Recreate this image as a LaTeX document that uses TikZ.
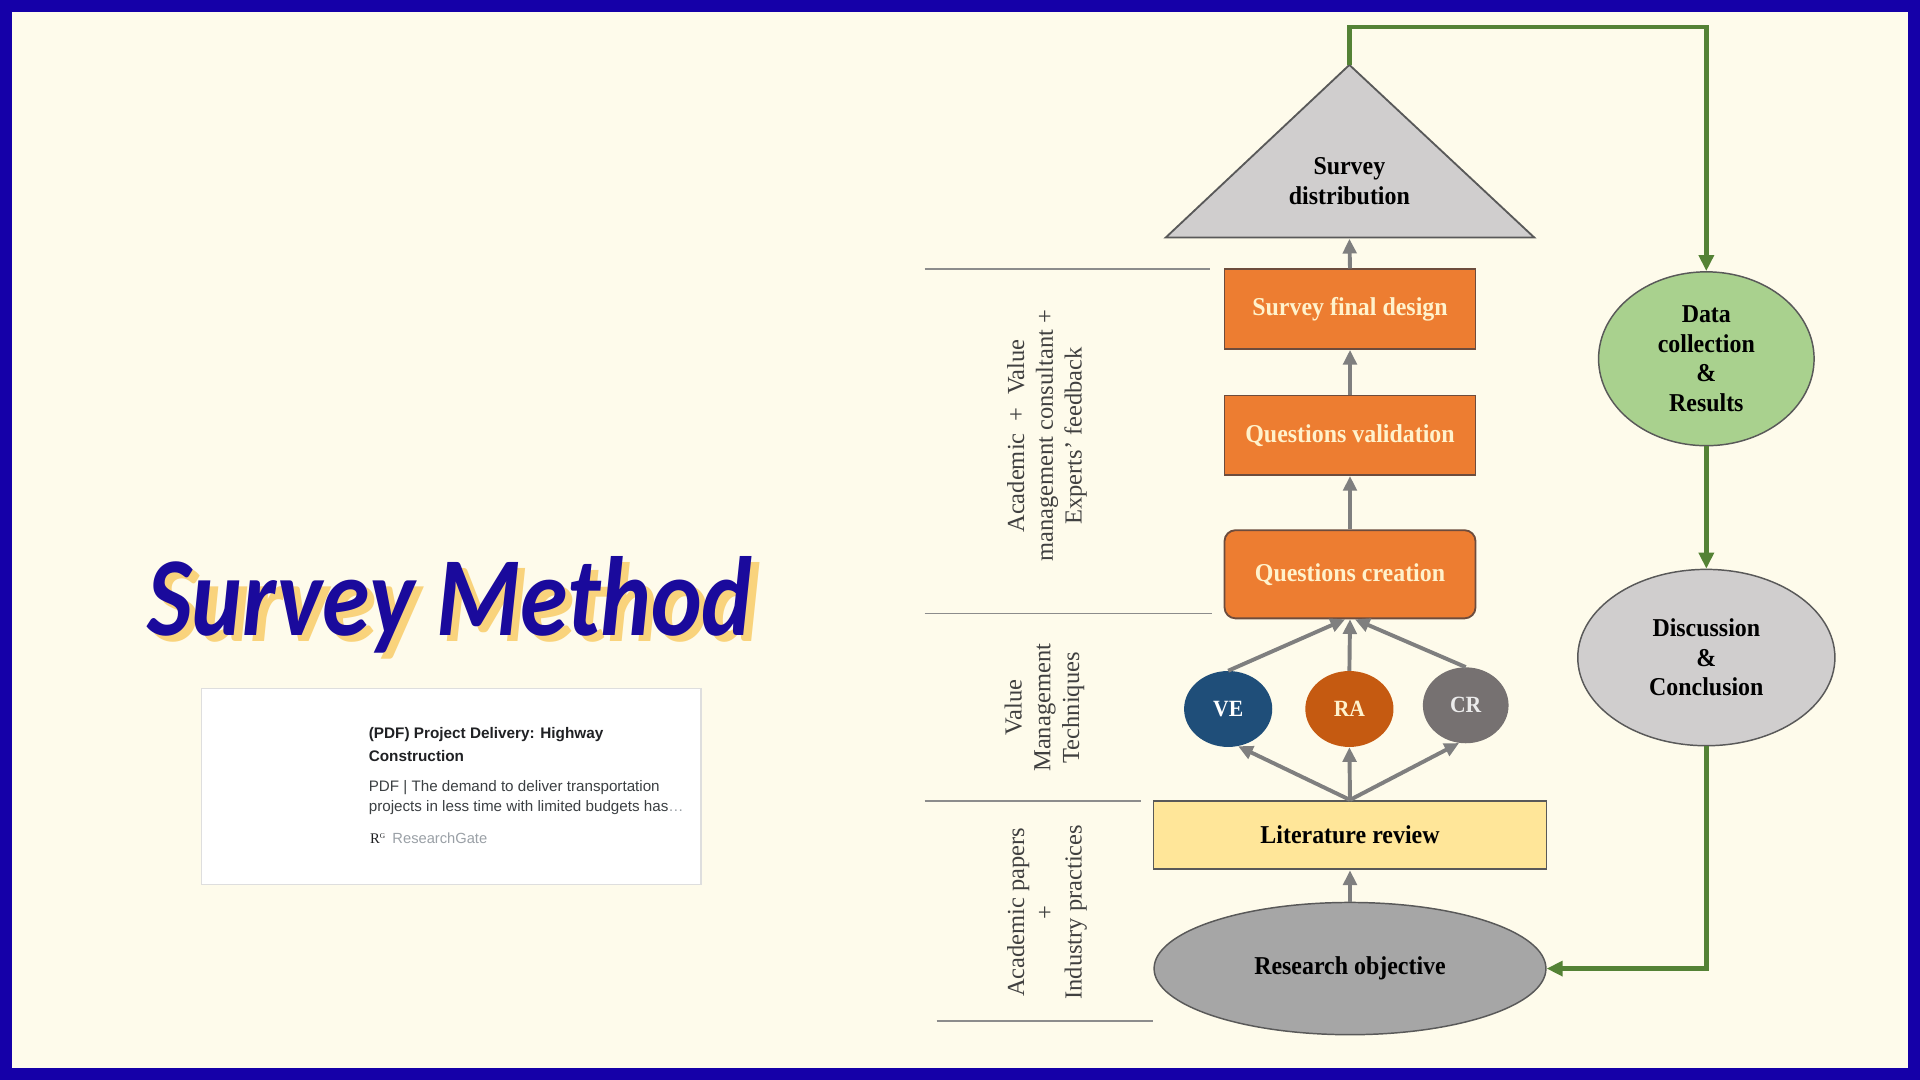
\documentclass[tikz,border=0pt]{standalone}
\usepackage{fontspec}
\setmainfont{Liberation Serif}
\newfontfamily\titlefont[FakeStretch=0.855]{Carlito}
\newfontfamily\cardfont{Liberation Sans}
\newfontfamily\nodefont[FakeStretch=0.93]{Liberation Serif}
\usetikzlibrary{arrows.meta,shapes.geometric}
\definecolor{frameblue}{HTML}{1500A8}
\definecolor{bgcream}{HTML}{FEFBEB}
\definecolor{titleblue}{HTML}{1A0A9C}
\definecolor{shadowyellow}{HTML}{F9D37C}
\definecolor{orangebox}{HTML}{ED7D31}
\definecolor{orangeedge}{HTML}{6D4C3D}
\definecolor{creamtext}{HTML}{FFF2CC}
\definecolor{arrowgray}{HTML}{7F7F7F}
\definecolor{greenline}{HTML}{548235}
\definecolor{trigray}{HTML}{D0CECE}
\definecolor{edgegray}{HTML}{595959}
\definecolor{litfill}{HTML}{FFE699}
\definecolor{rofill}{HTML}{A6A6A6}
\definecolor{dcgreen}{HTML}{A9D18E}
\definecolor{veblue}{HTML}{1F4E79}
\definecolor{rabrown}{HTML}{C55A11}
\definecolor{crgray}{HTML}{767171}
\definecolor{labelgray}{HTML}{404040}
\definecolor{rulegray}{HTML}{8C8C8C}
\definecolor{cardedge}{HTML}{DEDEDE}
\definecolor{cardtitle}{HTML}{202124}
\definecolor{cardbody}{HTML}{3C4043}
\definecolor{rggray}{HTML}{9AA0A6}
\tikzset{
  nodetext/.style={font=\nodefont\bfseries\fontsize{21}{24}\selectfont},
  obox/.style={nodetext, draw=orangeedge, line width=1.5pt, fill=orangebox,
    minimum width=205pt, minimum height=65pt, inner sep=0pt, text=creamtext},
  tech/.style={ellipse, inner sep=0pt, minimum width=72pt, minimum height=62pt,
    font=\nodefont\bfseries\fontsize{19}{21}\selectfont},
  oval/.style={ellipse, nodetext, draw=edgegray, line width=1.2pt, inner sep=0pt, align=center},
  grayarrow/.style={draw=arrowgray, line width=3.2pt, -{Triangle[length=12pt,width=11pt]}},
  greenarrow/.style={draw=greenline, line width=3.8pt, -{Triangle[length=13pt,width=12pt]}},
  rule/.style={draw=rulegray, line width=1.5pt},
  sidelabel/.style={rotate=90, align=center, text=labelgray,
    font=\rmfamily\fontsize{20}{23.5}\selectfont},
  titletext/.style={anchor=base west, inner sep=0pt,
    font=\titlefont\bfseries\itshape\fontsize{92}{100}\selectfont},
}
\begin{document}
\begin{tikzpicture}[x=1pt,y=-1pt]
\useasboundingbox (0,0) rectangle (1568,882);
\fill[frameblue] (0,0) rectangle (1568,882);
\fill[bgcream] (10,10) rectangle (1558,872);

% title
\node[titletext, text=shadowyellow] (titleshadow) at (126,524) {Survey Method};
\node[titletext, text=titleblue] (title) at (120,519) {Survey Method};

% card
\node[draw=cardedge, line width=1pt, fill=white, minimum width=408pt, minimum height=160pt,
  anchor=north west, inner sep=0pt] (card) at (164,562) {};
\node[anchor=base west, inner sep=0pt, align=left, text=cardtitle,
  font=\cardfont\bfseries\fontsize{12.5}{18.5}\selectfont] (cardhead) at (301,621.5)
  {(PDF) Project Delivery: Highway\\Construction};
\node[anchor=base west, inner sep=0pt, align=left, text=cardbody,
  font=\cardfont\fontsize{12.4}{17}\selectfont] (cardtext) at (301,663)
  {PDF | The demand to deliver transportation\\projects in less time with limited budgets has\textcolor{rggray}{\ldots}};
\node[anchor=base west, inner sep=0pt, text=rggray,
  font=\cardfont\fontsize{12}{14}\selectfont] (cardsrc) at (302,689)
  {\textcolor{cardtitle}{\rmfamily R\raisebox{4pt}{\fontsize{6}{6}\selectfont G}}\hspace{6pt}ResearchGate};

% separator rules
\draw[rule] (755,220) -- (988,220);
\draw[rule] (755,501) -- (990,501);
\draw[rule] (755,654) -- (932,654);
\draw[rule] (765,834) -- (942,834);

% side labels
\node[sidelabel] (lab1) at (855,356) {Academic \ + \ Value\\management consultant +\\Experts’ feedback};
\node[sidelabel] (lab2) at (853,578) {Value\\Management\\Techniques};
\node[sidelabel] (lab3) at (855,745) {Academic papers\\+\\Industry practices};

% triangle
\draw[draw=edgegray, line width=1.5pt, fill=trigray, line join=miter]
  (1102,53) coordinate (apex) -- (1253,194) -- (952,194) -- cycle;
\coordinate (tribase) at (1102,195);
\node[nodetext, align=center, inner sep=0pt] (sd) at (1102,148) {Survey\\distribution};

% boxes
\node[obox] (sfd) at (1102.5,252.5) {Survey final design};
\node[obox] (qv) at (1102.5,355.5) {Questions validation};
\node[obox, minimum height=72pt, rounded corners=9pt] (qc) at (1102.5,469) {Questions creation};

\node[tech, fill=veblue, text=white] (ve) at (1003,579) {VE};
\node[tech, fill=rabrown, text=creamtext] (ra) at (1102,579) {RA};
\node[tech, fill=crgray, text=white!92!black, minimum width=70pt] (cr) at (1197,576) {CR};

\node[nodetext, draw=edgegray, line width=1.5pt, fill=litfill, minimum width=321pt,
  minimum height=56pt, inner sep=0pt] (lr) at (1102.5,682) {Literature review};
\node[oval, fill=rofill, minimum width=320pt, minimum height=108pt] (ro) at (1102.5,791) {Research objective};

\node[oval, fill=dcgreen, minimum width=176pt, minimum height=142pt] (dc) at (1393.5,293)
  {Data\\collection\\\&\\Results};
\node[oval, fill=trigray, minimum width=210pt, minimum height=144pt] (dis) at (1393.5,537)
  {Discussion\\\&\\Conclusion};

% gray connectors
\draw[grayarrow] (sfd.north) -- (tribase);
\draw[grayarrow] (qv.north) -- (sfd.south);
\draw[grayarrow] (qc.north) -- (qv.south);
\draw[grayarrow] (ve.north) -- ([xshift=-4pt]qc.south);
\draw[grayarrow] (ra.north) -- (qc.south);
\draw[grayarrow] (cr.north) -- ([xshift=4pt]qc.south);
\draw[grayarrow] (lr.north) -- (ve.-75);
\draw[grayarrow] (lr.north) -- (ra.south);
\draw[grayarrow] (lr.north) -- (cr.-100);
\draw[grayarrow] (ro.north) -- (lr.south);

% green connectors
\coordinate (gtop) at (1102,22);
\draw[greenarrow, line join=miter] (apex) -- (gtop) -| (dc.north);
\draw[greenarrow] (dc.south) -- (dis.north);
\draw[greenarrow, line join=miter] (dis.south) |- (ro.east);
\end{tikzpicture}
\end{document}
